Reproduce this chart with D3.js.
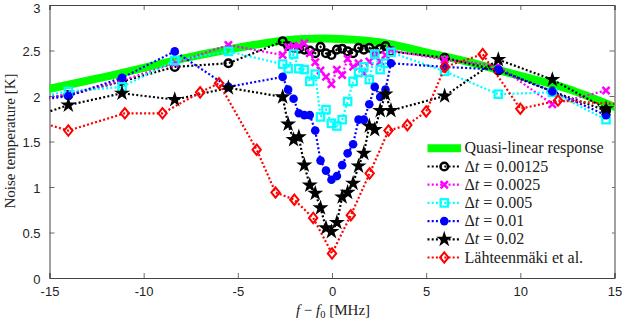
<!DOCTYPE html>
<html><head><meta charset="utf-8">
<script src="https://cdn.jsdelivr.net/npm/d3@7"></script>
<style>body{margin:0;background:#fff}svg{display:block}</style>
</head><body><svg id="c" width="623" height="322"></svg>
<script>
// ---- data ----
const xTicks = [-15,-10,-5,0,5,10,15];
const yTicks = [0,0.5,1,1.5,2,2.5,3];
const yTickLabels = ["0","0.5","1","1.5","2","2.5","3"];
const xTickLabels = ["-15","-10","-5","0","5","10","15"];

const qlFreq = [-16,-15,-12.5,-10,-7.5,-5,-2.5,0,2.5,5,7.5,10,12.5,15,16];
const qlTemp = [2.03,2.08,2.19,2.31,2.43,2.53,2.61,2.63,2.59,2.48,2.36,2.22,2.08,1.88,1.80];

const simFreq = [-16.85,-14.0,-11.15,-8.35,-5.5,
  -2.62,-2.33,-2.04,-1.76,-1.47,-1.18,-0.89,-0.61,-0.32,-0.03,0.26,0.54,0.83,1.12,1.41,1.69,1.98,2.27,2.56,2.84,3.13,
  5.98,8.83,11.7,14.55];
const dt00125 = [1.95,2.01,2.16,2.32,2.36,
  2.60,2.55,2.53,2.52,2.51,2.50,2.47,2.54,2.47,2.45,2.51,2.52,2.49,2.47,2.53,2.51,2.53,2.49,2.52,2.55,2.49,
  2.42,2.28,2.05,1.84];
const dt0025 = [1.92,2.02,2.17,2.36,2.56,
  2.45,2.54,2.55,2.55,2.58,2.47,2.37,2.28,2.21,2.13,2.29,2.23,2.41,2.32,2.36,2.25,2.38,2.47,2.38,2.45,2.50,
  2.40,2.33,1.91,2.06];
const dt005 = [1.95,2.05,2.10,2.39,2.49,
  2.35,2.30,2.46,2.30,2.29,2.16,2.24,1.77,1.85,1.70,1.67,1.74,1.94,2.16,2.26,2.32,2.18,2.46,2.29,2.36,2.48,
  2.27,2.02,2.04,1.74];
const dt01 = [1.92,2.00,2.20,2.49,2.10,
  2.21,2.07,1.97,1.81,1.79,1.79,1.62,1.29,1.18,1.08,1.12,1.24,1.37,1.47,1.74,1.74,1.91,2.10,1.99,2.07,2.36,
  2.32,2.29,2.05,1.79];
const dt02 = [1.70,1.90,2.03,1.96,2.09,
  1.99,1.69,1.52,1.55,1.24,1.02,0.93,0.77,0.55,0.51,0.61,0.89,0.94,1.04,1.23,1.37,1.67,1.63,1.84,2.02,1.84,
  2.00,2.40,2.18,1.86];
const lahFreq = [-16,-14,-11,-9,-7,-6,-4,-3,-2,-1,0,1,2,3,4,5,6,8,10,12,16];
const lahTemp = [1.74,1.62,1.81,1.81,2.04,2.14,1.41,0.94,0.86,0.66,0.27,0.69,1.15,1.62,1.68,1.83,2.32,2.46,1.86,1.95,1.90];

const legendLabels = ["Quasi-linear response","0.00125","0.0025","0.005","0.01","0.02","Lähteenmäki et al."];

// ---- chart ----
const svg = d3.select("#c");
const L=49.5, R=614.5, T=5, B=278;
const x = d3.scaleLinear().domain([-15,15]).range([L,R]);
const y = d3.scaleLinear().domain([0,3]).range([B,T]);

svg.append("defs").append("clipPath").attr("id","clip")
  .append("rect").attr("x",L).attr("y",T).attr("width",R-L).attr("height",B-T);

const sans = "'Liberation Sans', Arial, sans-serif";
const serif = "'Liberation Serif', 'DejaVu Serif', serif";
const axCol = "#444";

// axes
const gx = svg.append("g").attr("transform",`translate(0,${B})`)
  .call(d3.axisBottom(x).tickValues(xTicks).tickSize(-5).tickPadding(9).tickFormat((d,i)=>xTickLabels[i]));
const gxT = svg.append("g").attr("transform",`translate(0,${T})`)
  .call(d3.axisTop(x).tickValues(xTicks).tickSize(-5).tickFormat(""));
const gy = svg.append("g").attr("transform",`translate(${L},0)`)
  .call(d3.axisLeft(y).tickValues(yTicks).tickSize(-5).tickPadding(9).tickFormat((d,i)=>yTickLabels[i]));
const gyR = svg.append("g").attr("transform",`translate(${R},0)`)
  .call(d3.axisRight(y).tickValues(yTicks).tickSize(-5).tickFormat(""));
[gx,gxT,gy,gyR].forEach(g=>{
  g.select(".domain").attr("stroke",axCol).attr("stroke-width",1);
  g.selectAll(".tick line").attr("stroke",axCol).attr("stroke-width",0.8);
  g.selectAll(".tick text").attr("fill","#222").style("font-family",sans).style("font-size","13px");
});
gy.selectAll(".tick text").attr("dy","0.4em");
gy.selectAll(".tick").filter(d=>d===3).select("text").attr("dy","0.6em");

// axis labels
const xl = svg.append("text").attr("x",333).attr("y",315).attr("text-anchor","middle")
  .style("font-family",serif).style("font-size","15px").attr("fill","#222");
xl.append("tspan").style("font-style","italic").text("f");
xl.append("tspan").text(" \u2212 ");
xl.append("tspan").style("font-style","italic").text("f");
xl.append("tspan").attr("dy",3).style("font-size","10.5px").text("0");
xl.append("tspan").attr("dy",-3).text(" [MHz]");
svg.append("text").attr("transform","translate(15,141) rotate(-90)").attr("text-anchor","middle")
  .style("font-family",serif).style("font-size","15px").attr("fill","#222").text("Noise temperature [K]");

const plot = svg.append("g").attr("clip-path","url(#clip)");

// marker shapes
function drawMarker(g, type, color){
  if(type==="circle") g.append("circle").attr("r",3.8).attr("fill","none").attr("stroke",color).attr("stroke-width",2.5);
  else if(type==="x") g.append("path").attr("d","M-3.6,-3.6L3.6,3.6M-3.6,3.6L3.6,-3.6").attr("stroke",color).attr("stroke-width",2.5).attr("fill","none");
  else if(type==="square") g.append("rect").attr("x",-3.7).attr("y",-3.7).attr("width",7.4).attr("height",7.4).attr("fill","none").attr("stroke",color).attr("stroke-width",2.2);
  else if(type==="dot") g.append("circle").attr("r",4.3).attr("fill",color);
  else if(type==="star") g.append("path").attr("d",d3.symbol().type(d3.symbolStar).size(80)()).attr("fill",color);
  else if(type==="diamond") g.append("path").attr("d","M0,-5.2L4.2,0L0,5.2L-4.2,0Z").attr("fill","none").attr("stroke",color).attr("stroke-width",2);
}

// quasi-linear
const qlLine = d3.line().x((d,i)=>x(qlFreq[i])).y(d=>y(d)).curve(d3.curveNatural);
plot.append("path").attr("d",qlLine(qlTemp)).attr("fill","none").attr("stroke","#00ff00").attr("stroke-width",8);

const series = [
  {f:simFreq, v:dt00125, c:"#000000", m:"circle"},
  {f:simFreq, v:dt0025, c:"#ff00ff", m:"x"},
  {f:simFreq, v:dt005, c:"#00ffff", m:"square"},
  {f:simFreq, v:dt01, c:"#0000ff", m:"dot"},
  {f:simFreq, v:dt02, c:"#000000", m:"star"},
  {f:lahFreq, v:lahTemp, c:"#ff0000", m:"diamond"}
];
series.forEach(s=>{
  const line = d3.line().x((d,i)=>x(s.f[i])).y(d=>y(d));
  plot.append("path").attr("d",line(s.v)).attr("fill","none").attr("stroke",s.c)
    .attr("stroke-width",2.2).attr("stroke-dasharray","2,2.2");
  s.v.forEach((v,i)=>{
    const g = plot.append("g").attr("transform",`translate(${x(s.f[i])},${y(v)})`);
    drawMarker(g, s.m, s.c);
  });
});

// legend
const lg = svg.append("g");
const ly0 = 148.3, ldy = 18.2, lx0 = 427.5, lx1 = 461, ltx = 464.5;
lg.append("rect").attr("x",423).attr("y",138).attr("width",189).attr("height",130).attr("fill","#fff");
const legItems = [{c:"#00ff00",m:null}].concat(series.map(s=>({c:s.c,m:s.m})));
legItems.forEach((it,i)=>{
  const yy = ly0 + i*ldy;
  if(i===0){
    lg.append("line").attr("x1",lx0).attr("x2",lx1).attr("y1",yy).attr("y2",yy).attr("stroke",it.c).attr("stroke-width",8);
  } else {
    lg.append("line").attr("x1",lx0).attr("x2",lx1).attr("y1",yy).attr("y2",yy).attr("stroke",it.c)
      .attr("stroke-width",2.2).attr("stroke-dasharray","2,2.2");
    drawMarker(lg.append("g").attr("transform",`translate(${(lx0+lx1)/2},${yy})`), it.m, it.c);
  }
  const t = lg.append("text").attr("x",ltx).attr("y",yy+5).style("font-family",serif).style("font-size","16px").attr("fill","#222");
  if(i===0 || i===6) t.text(legendLabels[i]);
  else {
    t.append("tspan").text("\u0394");
    t.append("tspan").style("font-style","italic").text("t");
    t.append("tspan").text(" = " + legendLabels[i]);
  }
});
</script></body></html>
